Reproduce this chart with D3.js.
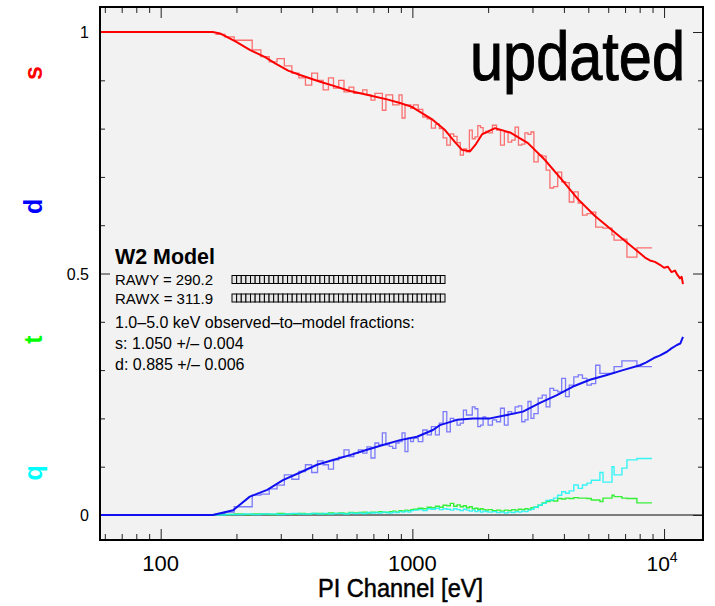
<!DOCTYPE html>
<html>
<head>
<meta charset="utf-8">
<script src="https://cdn.jsdelivr.net/npm/d3@7/dist/d3.min.js"></script>
<style>
  html, body { margin: 0; padding: 0; background: #ffffff; }
  svg { display: block; }
  text { font-family: "Liberation Sans", Arial, Helvetica, sans-serif; }
</style>
</head>
<body>
<svg id="chart" width="715" height="606"></svg>
<script>
// Grade fractions versus PI channel energy (eV).
// Histogram bin edges shared by all four grade classes.
const binEdges = [165,180,196,213,231,250,270,290,310,332,354,376,398,420,442,464,486,510,
  535,560,585,610,635,660,685,710,735,760,785,810,835,860,885,910,935,960,985,1010,
  1055,1100,1145,1190,1235,1280,1325,1370,1415,1460,1505,1550,1595,1640,1685,1730,1775,1820,1865,1910,1955,2000,
  2080,2160,2240,2320,2400,2480,2560,2640,2720,2800,2880,2960,3040,
  3160,3280,3400,3520,3640,3780,3920,4060,4200,4380,4560,4740,4940,5140,5350,5560,
  5720,6210,6330,6800,7120,7800,8950];

// observed fractions per bin
const sObs = [0.995,0.990,0.983,0.983,0.963,0.949,0.938,0.945,0.930,0.915,0.905,0.890,0.915,0.900,0.880,0.905,0.884,
  0.900,0.876,0.886,0.873,0.873,0.880,0.870,0.859,0.873,0.873,0.838,0.870,0.870,0.849,0.849,0.870,0.822,0.849,0.849,0.842,
  0.849,0.840,0.824,0.820,0.801,0.809,0.800,0.781,0.766,0.789,0.784,0.771,0.745,0.758,0.752,0.797,0.779,0.783,0.806,0.802,0.790,0.794,
  0.791,0.807,0.797,0.766,0.793,0.772,0.776,0.803,0.766,0.768,0.791,0.788,0.793,
  0.731,0.745,0.743,0.714,0.677,0.680,0.710,0.690,0.688,0.648,0.669,0.646,0.621,0.624,0.627,0.596,
  0.596,0.594,0.580,0.569,0.571,0.534,0.553];

const dObs = [0.003,0.006,0.017,0.017,0.041,0.043,0.054,0.062,0.083,0.074,0.090,0.104,0.088,0.112,0.104,0.095,0.114,
  0.120,0.135,0.121,0.128,0.135,0.128,0.141,0.118,0.149,0.145,0.170,0.145,0.142,0.138,0.149,0.152,0.170,0.131,0.159,0.152,
  0.159,0.152,0.176,0.166,0.183,0.166,0.190,0.214,0.172,0.200,0.197,0.186,0.190,0.217,0.207,0.207,0.224,0.220,0.183,0.186,0.203,0.200,
  0.186,0.197,0.193,0.221,0.186,0.214,0.210,0.224,0.226,0.193,0.197,0.235,0.200,
  0.210,0.242,0.248,0.224,0.262,0.258,0.255,0.283,0.245,0.269,0.286,0.290,0.283,0.269,0.272,0.310,
  0.293,0.293,0.293,0.307,0.319,0.319,0.307];

const tObs = [0.001,0.001,0.002,0.001,0.002,0.002,0.001,0.003,0.002,0.002,0.003,0.002,0.003,0.003,0.002,0.004,0.003,
  0.004,0.003,0.005,0.004,0.005,0.006,0.004,0.006,0.005,0.007,0.006,0.005,0.007,0.008,0.006,0.009,0.008,0.010,0.009,0.011,
  0.012,0.014,0.013,0.016,0.015,0.018,0.016,0.020,0.019,0.024,0.018,0.021,0.017,0.019,0.015,0.017,0.013,0.014,0.012,0.013,0.011,0.010,
  0.011,0.009,0.010,0.008,0.010,0.009,0.011,0.010,0.012,0.011,0.013,0.012,0.015,
  0.016,0.020,0.025,0.028,0.030,0.029,0.034,0.033,0.035,0.034,0.036,0.035,0.035,0.034,0.031,0.031,
  0.028,0.035,0.041,0.038,0.035,0.034,0.025];

const qObs = [0.000,0.001,0.001,0.002,0.001,0.002,0.002,0.001,0.002,0.003,0.002,0.002,0.003,0.002,0.003,0.002,0.003,
  0.003,0.002,0.004,0.003,0.004,0.003,0.005,0.004,0.005,0.004,0.006,0.005,0.004,0.006,0.005,0.007,0.006,0.008,0.006,0.009,
  0.010,0.011,0.009,0.013,0.012,0.014,0.011,0.013,0.012,0.010,0.013,0.011,0.009,0.012,0.010,0.008,0.010,0.007,0.009,0.006,0.008,0.007,
  0.006,0.007,0.005,0.006,0.004,0.006,0.005,0.007,0.006,0.008,0.007,0.010,0.012,
  0.016,0.020,0.024,0.030,0.031,0.035,0.041,0.048,0.045,0.050,0.062,0.055,0.062,0.066,0.072,0.072,
  0.088,0.068,0.100,0.083,0.097,0.114,0.117];

// model curves
const sModelE = [57.4,161,172,199,226,260,285,321,358,430,484,565,660,800,893,996,1092,1207,1348,1477,1575,1694,1789,1890,
  2129,2443,2879,3364,3930,4549,5315,6679,8022,8400,8790,9200,9632,10000,10360,10700,11050,11300,11570,11750,11890];
const sModel = [1,1,0.997,0.980,0.963,0.948,0.935,0.920,0.911,0.897,0.889,0.878,0.870,0.860,0.853,0.845,0.832,0.818,0.797,0.772,
  0.756,0.753,0.768,0.788,0.801,0.792,0.770,0.735,0.694,0.654,0.619,0.576,0.542,0.533,0.527,0.524,0.518,0.512,0.514,0.503,
  0.506,0.497,0.490,0.493,0.478];

const dModelE = [57.4,161,194,226,265,306,358,418,484,565,660,764,893,1043,1207,1287,1504,1741,2034,2376,2750,3214,3753,4347,
  5076,5932,6866,8022,8500,9105,9600,10268,10700,11250,11600,11890];
const dModel = [0,0,0.010,0.038,0.052,0.072,0.088,0.104,0.114,0.124,0.135,0.145,0.155,0.162,0.176,0.186,0.197,0.200,0.200,
  0.207,0.214,0.232,0.248,0.266,0.280,0.290,0.300,0.310,0.316,0.325,0.330,0.338,0.345,0.352,0.355,0.369];

// axis ticks
const xMajorTicks = [100, 1000, 10000];
const xMinorTicks = [60,70,80,90,200,300,400,500,600,700,800,900,2000,3000,4000,5000,6000,7000,8000,9000];
const yMajorTicks = [0, 0.5, 1];
const yMinorTicks = [0.1,0.2,0.3,0.4,0.6,0.7,0.8,0.9];
const yTickLabels = ["0", "0.5", "1"];

// grade labels down the left side
const gradeNames = ["s", "d", "t", "q"];
const gradeColors = ["#ff0000", "#0000ff", "#00ff00", "#00ffff"];

// annotation block
const modelTitle = "W2 Model";
const posLines = ["RAWY = 290.2", "RAWX = 311.9"];
const fractionLines = ["1.0\u20135.0 keV observed\u2013to\u2013model fractions:",
  "s: 1.050 +/\u2013 0.004", "d: 0.885 +/\u2013 0.006"];

const svg = d3.select("#chart");
const L = 100, R = 703, T = 7, B = 540;

const x = d3.scaleLog().domain([57.4, 14280]).range([L, R]);
const y = d3.scaleLinear().domain([-0.0518, 1.0518]).range([B, T]);

svg.append("rect").attr("width", 715).attr("height", 606).attr("fill", "#ffffff");
svg.append("rect").attr("x", L).attr("y", T).attr("width", R - L).attr("height", B - T).attr("fill", "#f2f2f2");

// zero reference line
svg.append("line")
  .attr("x1", L).attr("x2", R).attr("y1", y(0)).attr("y2", y(0))
  .attr("stroke", "#555555").attr("stroke-width", 1.6);

// ticks via d3 axes (pointing inward)
function tickAxis(axisFn, scale, values, size, transform) {
  const g = svg.append("g").attr("transform", transform)
    .call(axisFn(scale).tickValues(values).tickSize(size).tickFormat(""));
  g.select(".domain").remove();
  g.selectAll(".tick line").attr("stroke", "#222").attr("stroke-width", 1);
  return g;
}
tickAxis(d3.axisBottom, x, xMajorTicks, -11, `translate(0,${B})`);
tickAxis(d3.axisBottom, x, xMinorTicks, -6, `translate(0,${B})`);
tickAxis(d3.axisTop, x, xMajorTicks, -11, `translate(0,${T})`);
tickAxis(d3.axisTop, x, xMinorTicks, -6, `translate(0,${T})`);
tickAxis(d3.axisLeft, y, yMajorTicks, -10, `translate(${L},0)`);
tickAxis(d3.axisLeft, y, yMinorTicks, -5, `translate(${L},0)`);
tickAxis(d3.axisRight, y, yMajorTicks, -10, `translate(${R},0)`);
tickAxis(d3.axisRight, y, yMinorTicks, -5, `translate(${R},0)`);

// histogram as step line
function stepPoints(vals) {
  const pts = vals.map((v, i) => [binEdges[i], v]);
  pts.push([binEdges[binEdges.length - 1], vals[vals.length - 1]]);
  return pts;
}
const stepLine = d3.line().x(d => x(d[0])).y(d => y(d[1])).curve(d3.curveStepAfter);
const smoothLine = d3.line().x(d => x(d[0])).y(d => y(d[1]));

const plot = svg.append("g");
function drawHist(vals, color, w, op) {
  plot.append("path").attr("d", stepLine(stepPoints(vals)))
    .attr("fill", "none").attr("stroke", color).attr("stroke-width", w)
    .attr("stroke-opacity", op).attr("stroke-linejoin", "miter");
}
function drawModel(es, vs, color, w) {
  plot.append("path").attr("d", smoothLine(es.map((e, i) => [e, vs[i]])))
    .attr("fill", "none").attr("stroke", color).attr("stroke-width", w)
    .attr("stroke-linejoin", "round");
}

drawHist(tObs, "#22ee22", 1.4, 0.9);
drawHist(qObs, "#22f4f4", 1.4, 0.9);
drawHist(dObs, "#3a3aff", 1.3, 0.65);
drawModel(dModelE, dModel, "#1010f0", 2);
drawHist(sObs, "#ff2a2a", 1.3, 0.65);
drawModel(sModelE, sModel, "#ff0000", 2);

// frame
svg.append("rect").attr("x", L).attr("y", T).attr("width", R - L).attr("height", B - T)
  .attr("fill", "none").attr("stroke", "#000").attr("stroke-width", 2);

// y tick labels
svg.append("g").selectAll("text").data(yMajorTicks).join("text")
  .attr("x", 89).attr("y", d => y(d) + 6)
  .attr("text-anchor", "end").attr("font-size", 16).attr("fill", "#000")
  .text((d, i) => yTickLabels[i]);

// x tick labels
const xl = svg.append("g");
xl.append("text").attr("x", x(100)).attr("y", 571).attr("text-anchor", "middle")
  .attr("font-size", 22).text("100");
xl.append("text").attr("x", x(1000)).attr("y", 571).attr("text-anchor", "middle")
  .attr("font-size", 22).text("1000");
const t4 = xl.append("text").attr("x", x(10000) - 2).attr("y", 571).attr("text-anchor", "middle")
  .attr("font-size", 21);
t4.append("tspan").text("10");
t4.append("tspan").attr("font-size", 14).attr("dy", -9).text("4");

// x axis title
svg.append("text").attr("x", 318).attr("y", 597)
  .attr("font-size", 25).attr("textLength", 165).attr("lengthAdjust", "spacingAndGlyphs")
  .attr("stroke", "#000").attr("stroke-width", 0.5)
  .text("PI Channel [eV]");

// grade labels (rotated)
svg.append("g").selectAll("text").data(gradeNames).join("text")
  .attr("transform", (d, i) => `translate(42,${73 + i * 133.3}) rotate(-90)`)
  .attr("text-anchor", "middle").attr("font-size", 25).attr("font-weight", "bold")
  .attr("fill", (d, i) => gradeColors[i])
  .text(d => d);

// big label
svg.append("text").attr("x", 470).attr("y", 80)
  .attr("font-size", 68).attr("textLength", 215).attr("lengthAdjust", "spacingAndGlyphs")
  .attr("fill", "#000").attr("stroke", "#000").attr("stroke-width", 1)
  .text("updated");

// annotation block
const ann = svg.append("g");
ann.append("text").attr("x", 115).attr("y", 264).attr("font-size", 22).attr("font-weight", "bold")
  .attr("textLength", 100).attr("lengthAdjust", "spacingAndGlyphs").text(modelTitle);
ann.selectAll(".pos").data(posLines).join("text").attr("class", "pos")
  .attr("x", 115).attr("y", (d, i) => 285 + i * 18.5).attr("font-size", 15)
  .attr("textLength", 98).attr("lengthAdjust", "spacingAndGlyphs").text(d => d);

// position bars made of small boxes
const nBoxes = 46, boxW = (445 - 232) / nBoxes;
posLines.forEach((p, r) => {
  ann.append("g").selectAll("rect").data(d3.range(nBoxes)).join("rect")
    .attr("x", i => 232 + i * boxW).attr("y", 275.5 + r * 18.5)
    .attr("width", boxW).attr("height", 8)
    .attr("fill", "#e6e6e6").attr("stroke", "#000").attr("stroke-width", 1);
});

ann.selectAll(".frac").data(fractionLines).join("text").attr("class", "frac")
  .attr("x", 115).attr("y", (d, i) => 328 + i * 21).attr("font-size", 16)
  .text(d => d);
</script>
</body>
</html>
